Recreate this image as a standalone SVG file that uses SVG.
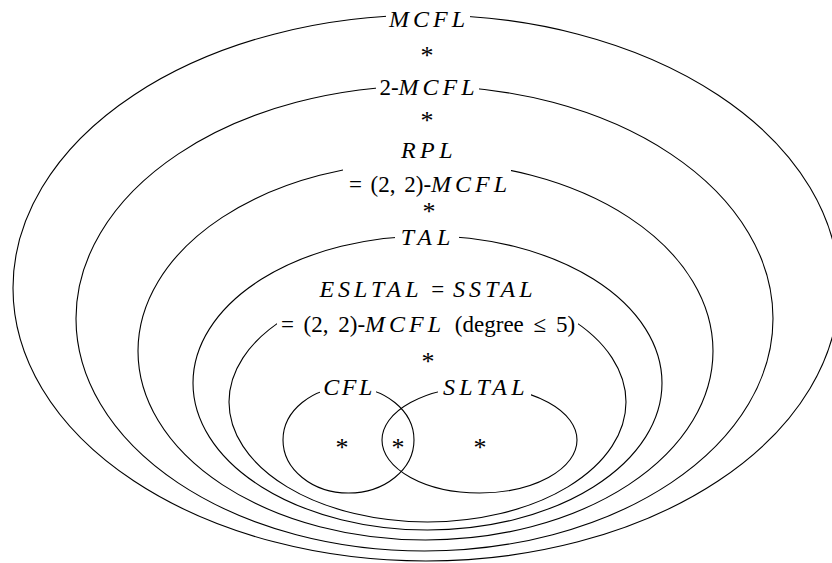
<svg xmlns="http://www.w3.org/2000/svg" width="832" height="563" viewBox="0 0 832 563">
<style>
  .e { fill: none; stroke: #000; stroke-width: 1.1; }
  .bg { fill: #fff; stroke: none; }
</style>
<rect width="832" height="563" fill="#fff"/>
<g id="mcfl">
  <ellipse class="e" cx="426" cy="288" rx="413" ry="273"/>
  <rect class="bg" x="386" y="5" width="84" height="26"/>
  <text font-family="Liberation Serif" font-size="24" font-style="italic" letter-spacing="4" text-anchor="middle" x="429" y="27">MCFL</text>
  <text font-family="Liberation Serif" font-size="26" text-anchor="middle" x="427" y="64">*</text>
</g>
<g id="mcfl2">
  <ellipse class="e" cx="424.5" cy="318.5" rx="348.5" ry="232.5"/>
  <rect class="bg" x="376" y="74" width="103" height="26"/>
  <text font-family="Liberation Serif" font-size="23" text-anchor="middle" x="429" y="95">2-<tspan font-style="italic" font-size="24" letter-spacing="4">MCFL</tspan></text>
  <text font-family="Liberation Serif" font-size="26" text-anchor="middle" x="427" y="129">*</text>
</g>
<g id="rpl">
  <ellipse class="e" cx="425.5" cy="351" rx="287.5" ry="189"/>
  <rect class="bg" x="343" y="138" width="168" height="60"/>
  <text font-family="Liberation Serif" font-size="24" font-style="italic" letter-spacing="4.5" text-anchor="middle" x="429" y="158">RPL</text>
  <text font-family="Liberation Serif" font-size="23" word-spacing="3" text-anchor="middle" x="430" y="192">= (2, 2)-<tspan font-style="italic" font-size="24" letter-spacing="4">MCFL</tspan></text>
  <text font-family="Liberation Serif" font-size="26" text-anchor="middle" x="429" y="220">*</text>
</g>
<g id="tal">
  <ellipse class="e" cx="427.5" cy="383" rx="234.5" ry="147"/>
  <rect class="bg" x="395" y="225" width="64" height="24"/>
  <text font-family="Liberation Serif" font-size="24" font-style="italic" letter-spacing="5" text-anchor="middle" x="428" y="245">TAL</text>
</g>
<g id="esltal">
  <ellipse class="e" cx="427.5" cy="402" rx="198.5" ry="120"/>
  <rect class="bg" x="277" y="274" width="301" height="63"/>
  <text font-family="Liberation Serif" font-size="23" word-spacing="3" text-anchor="middle" x="428" y="297"><tspan font-style="italic" font-size="24" letter-spacing="4">ESLTAL</tspan> = <tspan font-style="italic" font-size="24" letter-spacing="4">SSTAL</tspan></text>
  <text font-family="Liberation Serif" font-size="23" word-spacing="4" text-anchor="middle" x="428" y="332">= (2, 2)-<tspan font-style="italic" font-size="24" letter-spacing="4">MCFL</tspan> (degree ≤ 5)</text>
  <text font-family="Liberation Serif" font-size="26" text-anchor="middle" x="428" y="370">*</text>
</g>
<g id="cfl">
  <ellipse class="e" cx="348.5" cy="440" rx="65.5" ry="53"/>
  <rect class="bg" x="320" y="376" width="56" height="22"/>
  <text font-family="Liberation Serif" font-size="24" font-style="italic" letter-spacing="2.5" text-anchor="middle" x="349" y="395">CFL</text>
  <text font-family="Liberation Serif" font-size="26" text-anchor="middle" x="342" y="456">*</text>
</g>
<g id="sltal">
  <ellipse class="e" cx="479.5" cy="440" rx="97.5" ry="53"/>
  <rect class="bg" x="438" y="376" width="93" height="22"/>
  <text font-family="Liberation Serif" font-size="24" font-style="italic" letter-spacing="4.3" text-anchor="middle" x="486" y="395">SLTAL</text>
  <text font-family="Liberation Serif" font-size="26" text-anchor="middle" x="480" y="456">*</text>
</g>
<g id="intersection">
  <text font-family="Liberation Serif" font-size="26" text-anchor="middle" x="398" y="456">*</text>
</g>
<g id="connectors"></g>
</svg>
